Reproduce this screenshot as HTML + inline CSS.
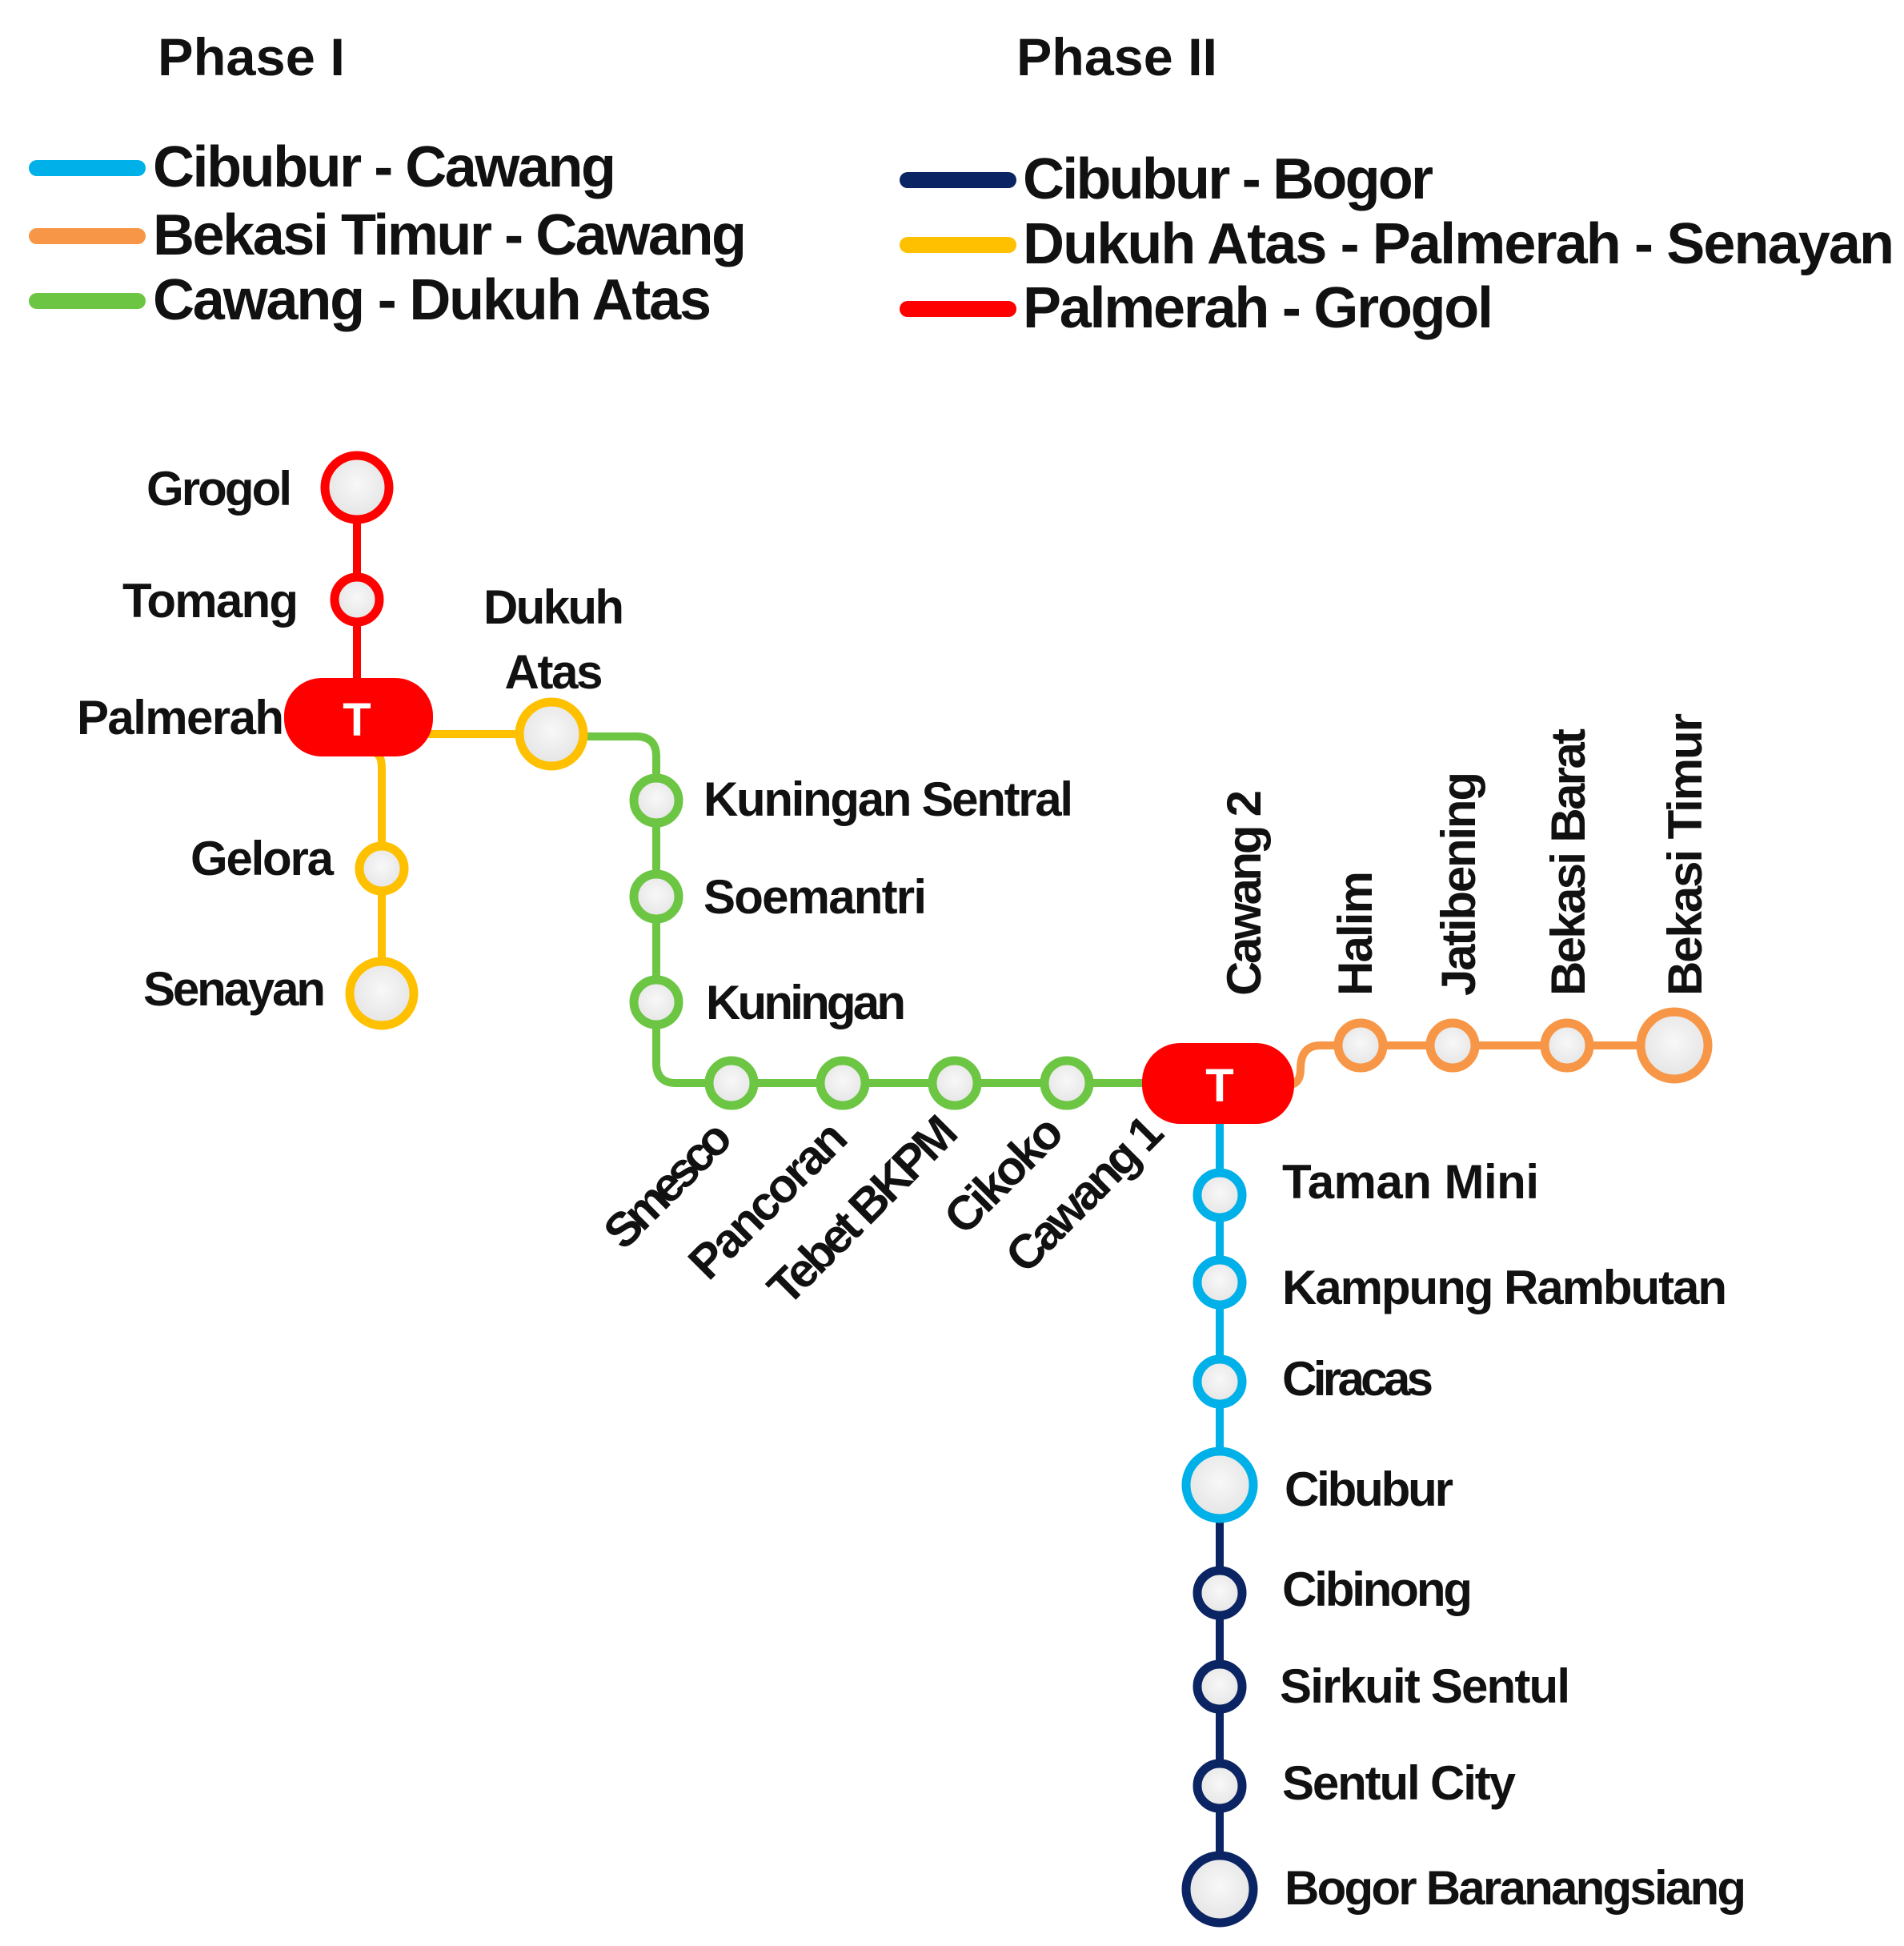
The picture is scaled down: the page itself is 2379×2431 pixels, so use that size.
<!DOCTYPE html>
<html><head><meta charset="utf-8"><style>
html,body{margin:0;padding:0;background:#fff}
svg{display:block}
text{font-family:"Liberation Sans",sans-serif;font-weight:bold;fill:#111}
</style></head><body>
<svg width="2379" height="2431" viewBox="0 0 2379 2431" xmlns="http://www.w3.org/2000/svg">
<defs>
<radialGradient id="g" cx="50%" cy="45%" r="60%"><stop offset="0" stop-color="#f8f8f8"/><stop offset="1" stop-color="#e2e2e2"/></radialGradient>
</defs>
<!-- Legend -->
<text x="197" y="94" font-size="66" textLength="234" lengthAdjust="spacingAndGlyphs">Phase I</text>
<text x="1270" y="94" font-size="66" textLength="251" lengthAdjust="spacingAndGlyphs">Phase II</text>
<g stroke-linecap="round" stroke-width="20">
<line x1="46" y1="210" x2="172" y2="210" stroke="#00b0e8"/>
<line x1="46" y1="295" x2="172" y2="295" stroke="#f79646"/>
<line x1="46" y1="376" x2="172" y2="376" stroke="#6cc644"/>
<line x1="1134" y1="225" x2="1260" y2="225" stroke="#0b2463"/>
<line x1="1134" y1="306" x2="1260" y2="306" stroke="#ffc000"/>
<line x1="1134" y1="386" x2="1260" y2="386" stroke="#ff0000"/>
</g>
<g font-size="72" lengthAdjust="spacingAndGlyphs">
<text x="191" y="233" textLength="579">Cibubur - Cawang</text>
<text x="191" y="318" textLength="742">Bekasi Timur - Cawang</text>
<text x="191" y="399" textLength="698">Cawang - Dukuh Atas</text>
<text x="1278" y="248" textLength="513">Cibubur - Bogor</text>
<text x="1278" y="329" textLength="1089">Dukuh Atas - Palmerah - Senayan</text>
<text x="1278" y="409" textLength="588">Palmerah - Grogol</text>
</g>

<!-- Lines -->
<g fill="none" stroke-width="10" stroke-linecap="round">
<line x1="446" y1="611" x2="446" y2="860" stroke="#ff0000"/>
<line x1="530" y1="917" x2="689" y2="917" stroke="#ffc000"/>
<path d="M466 940 Q477 940 477 960 L477 1241" stroke="#ffc000"/>
<path d="M689 920 L795 920 Q820 920 820 945 L820 1328 Q820 1353 845 1353 L1440 1353" stroke="#6cc644"/>
<path d="M1610 1355 Q1625 1355 1625 1335 Q1625 1306 1650 1306 L2092 1306" stroke="#f79646"/>
<line x1="1524" y1="1380" x2="1524" y2="1855" stroke="#00b0e8"/>
<line x1="1524" y1="1880" x2="1524" y2="2360" stroke="#0b2463"/>
</g>

<!-- Pills -->
<rect x="355" y="847" width="186" height="98" rx="47" fill="#ff0000"/>
<text x="446" y="919" font-size="58" text-anchor="middle" style="fill:#fff">T</text>
<rect x="1427" y="1303" width="190" height="101" rx="48" fill="#ff0000"/>
<text x="1524" y="1376" font-size="58" text-anchor="middle" style="fill:#fff">T</text>

<!-- Stations -->
<g fill="url(#g)" stroke-width="11">
<circle cx="446" cy="609" r="40" stroke="#ff0000"/>
<circle cx="446" cy="749" r="28" stroke="#ff0000"/>
<circle cx="689" cy="917" r="40" stroke="#ffc000"/>
<circle cx="477" cy="1085" r="28" stroke="#ffc000"/>
<circle cx="477" cy="1241" r="40" stroke="#ffc000"/>
<circle cx="820" cy="1000" r="28" stroke="#6cc644"/>
<circle cx="820" cy="1120" r="28" stroke="#6cc644"/>
<circle cx="820" cy="1252" r="28" stroke="#6cc644"/>
<circle cx="914" cy="1353" r="28" stroke="#6cc644"/>
<circle cx="1053" cy="1353" r="28" stroke="#6cc644"/>
<circle cx="1193" cy="1353" r="28" stroke="#6cc644"/>
<circle cx="1333" cy="1353" r="28" stroke="#6cc644"/>
<circle cx="1700" cy="1306" r="28" stroke="#f79646"/>
<circle cx="1815" cy="1306" r="28" stroke="#f79646"/>
<circle cx="1958" cy="1306" r="28" stroke="#f79646"/>
<circle cx="2092" cy="1306" r="42" stroke="#f79646"/>
<circle cx="1524" cy="1493" r="28" stroke="#00b0e8"/>
<circle cx="1524" cy="1602" r="28" stroke="#00b0e8"/>
<circle cx="1524" cy="1726" r="28" stroke="#00b0e8"/>
<circle cx="1524" cy="1855" r="42" stroke="#00b0e8"/>
<circle cx="1524" cy="1990" r="28" stroke="#0b2463"/>
<circle cx="1524" cy="2107" r="28" stroke="#0b2463"/>
<circle cx="1524" cy="2231" r="28" stroke="#0b2463"/>
<circle cx="1524" cy="2360" r="42" stroke="#0b2463"/>
</g>

<!-- Labels -->
<g font-size="60" lengthAdjust="spacingAndGlyphs">
<text x="365" y="631" text-anchor="end" textLength="182">Grogol</text>
<text x="373" y="771" text-anchor="end" textLength="220">Tomang</text>
<text x="96" y="917" textLength="259">Palmerah</text>
<text x="692" y="779" text-anchor="middle" textLength="176">Dukuh</text>
<text x="692" y="860" text-anchor="middle" textLength="123">Atas</text>
<text x="417" y="1093" text-anchor="end" textLength="179">Gelora</text>
<text x="407" y="1256" text-anchor="end" textLength="228">Senayan</text>
<text x="879" y="1019" textLength="462">Kuningan Sentral</text>
<text x="879" y="1141" textLength="279">Soemantri</text>
<text x="882" y="1273" textLength="250">Kuningan</text>

<text transform="translate(918,1425) rotate(-45)" text-anchor="end" textLength="196">Smesco</text>
<text transform="translate(1062,1425) rotate(-45)" text-anchor="end" textLength="250">Pancoran</text>
<text transform="translate(1200,1418) rotate(-45)" text-anchor="end" textLength="305">Tebet BKPM</text>
<text transform="translate(1332,1418) rotate(-45)" text-anchor="end" textLength="180">Cikoko</text>
<text transform="translate(1457,1418) rotate(-45)" text-anchor="end" textLength="248">Cawang 1</text>

<text transform="translate(1575,1244) rotate(-90)" textLength="257">Cawang 2</text>
<text transform="translate(1714,1244) rotate(-90)" textLength="156">Halim</text>
<text transform="translate(1843,1244) rotate(-90)" textLength="280">Jatibening</text>
<text transform="translate(1980,1244) rotate(-90)" textLength="334">Bekasi Barat</text>
<text transform="translate(2126,1244) rotate(-90)" textLength="353">Bekasi Timur</text>

<text x="1602" y="1497" textLength="321">Taman Mini</text>
<text x="1602" y="1629" textLength="556">Kampung Rambutan</text>
<text x="1602" y="1743" textLength="189">Ciracas</text>
<text x="1605" y="1881" textLength="211">Cibubur</text>
<text x="1602" y="2006" textLength="238">Cibinong</text>
<text x="1599" y="2127" textLength="363">Sirkuit Sentul</text>
<text x="1602" y="2248" textLength="292">Sentul City</text>
<text x="1605" y="2379" textLength="577">Bogor Baranangsiang</text>
</g>
</svg>
</body></html>
